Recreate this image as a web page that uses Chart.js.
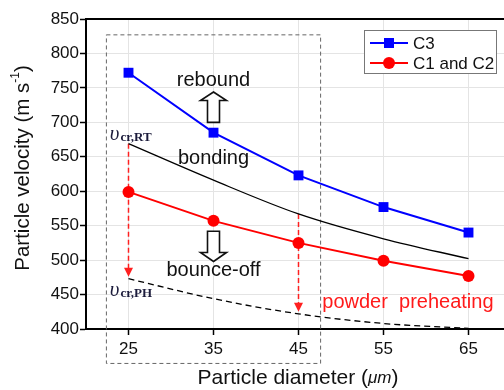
<!DOCTYPE html>
<html>
<head>
<meta charset="utf-8">
<script src="https://cdn.jsdelivr.net/npm/chart.js@4.4.0/dist/chart.umd.min.js"></script>
<style>
  html, body { margin: 0; padding: 0; background: #fff; overflow: hidden; }
</style>
</head>
<body>
<canvas id="chart" width="520" height="390"></canvas>
<script>
// values
const diameters = [25, 35, 45, 55, 65];
const c3Velocity = [772, 685, 623, 577, 540];
const c12Velocity = [599, 557, 525, 499, 477];
const bondingCritical = [669, 616, 567, 531, 502];
const preheatCritical = [473, 444, 422, 408, 401];
const arrowDiameters = [25, 45];
const boxDiameters = [22.4, 47.6];
const boxVelocities = [350, 827];

const SANS = '"Liberation Sans", Arial, sans-serif';
const SERIF = '"Liberation Serif", "Times New Roman", serif';

const toPoints = (ys) => diameters.map((d, i) => ({ x: d, y: ys[i] }));

function hollowArrow(ctx, cx, tipY, tailY, headLen) {
  const dir = tailY > tipY ? 1 : -1; // 1 = points up
  const baseY = tipY + dir * headLen;
  ctx.beginPath();
  ctx.moveTo(cx, tipY);
  ctx.lineTo(cx + 13, baseY);
  ctx.lineTo(cx + 6, baseY);
  ctx.lineTo(cx + 6, tailY);
  ctx.lineTo(cx - 6, tailY);
  ctx.lineTo(cx - 6, baseY);
  ctx.lineTo(cx - 13, baseY);
  ctx.closePath();
  ctx.fillStyle = '#fff';
  ctx.fill();
  ctx.lineWidth = 1.6;
  ctx.strokeStyle = '#111';
  ctx.stroke();
}

function critLabel(ctx, x, y, sub) {
  ctx.fillStyle = '#1c1c3c';
  ctx.textAlign = 'left';
  ctx.textBaseline = 'alphabetic';
  ctx.font = 'italic 21px ' + SERIF;
  ctx.fillText('\u03c5', x, y);
  const w = ctx.measureText('\u03c5').width;
  ctx.font = 'bold 13px ' + SERIF;
  ctx.fillText(sub, x + w + 1, y + 1);
}

const annotations = {
  id: 'annotations',
  beforeDatasetsDraw(chart) {
    const { ctx, chartArea, scales: { x, y } } = chart;
    ctx.save();
    // top frame line
    ctx.strokeStyle = '#000';
    ctx.lineWidth = 2;
    ctx.beginPath();
    ctx.moveTo(chartArea.left, chartArea.top);
    ctx.lineTo(chartArea.right, chartArea.top);
    ctx.stroke();

    // dashed grey box
    ctx.setLineDash([4, 3]);
    ctx.lineWidth = 1;
    ctx.strokeStyle = '#666';
    const bx0 = x.getPixelForValue(boxDiameters[0]);
    const bx1 = x.getPixelForValue(boxDiameters[1]);
    const by0 = y.getPixelForValue(boxVelocities[1]);
    const by1 = y.getPixelForValue(boxVelocities[0]);
    ctx.strokeRect(bx0, by0, bx1 - bx0, by1 - by0);

    // red dashed drop arrows
    arrowDiameters.forEach((d) => {
      const i = diameters.indexOf(d);
      const px = x.getPixelForValue(d);
      const top = y.getPixelForValue(bondingCritical[i]);
      const tip = y.getPixelForValue(preheatCritical[i]) - 2;
      ctx.setLineDash([5, 3]);
      ctx.lineWidth = 1.5;
      ctx.strokeStyle = '#ff2020';
      ctx.beginPath();
      ctx.moveTo(px, top);
      ctx.lineTo(px, tip - 8);
      ctx.stroke();
      ctx.setLineDash([]);
      ctx.fillStyle = '#ff2020';
      ctx.beginPath();
      ctx.moveTo(px, tip);
      ctx.lineTo(px - 4.5, tip - 9);
      ctx.lineTo(px + 4.5, tip - 9);
      ctx.closePath();
      ctx.fill();
    });
    ctx.restore();
  },
  afterDatasetsDraw(chart) {
    const { ctx, scales: { x, y } } = chart;
    ctx.save();
    const cx = x.getPixelForValue(35);

    ctx.fillStyle = '#111';
    ctx.font = '20px ' + SANS;
    ctx.textAlign = 'center';
    ctx.textBaseline = 'middle';
    ctx.fillText('rebound', cx, y.getPixelForValue(761));
    ctx.fillText('bonding', cx, y.getPixelForValue(648));
    ctx.fillText('bounce-off', cx, y.getPixelForValue(485));

    hollowArrow(ctx, cx, y.getPixelForValue(744), y.getPixelForValue(700), 8.5);
    hollowArrow(ctx, cx, y.getPixelForValue(498), y.getPixelForValue(542), 9);

    critLabel(ctx, x.getPixelForValue(22.8), y.getPixelForValue(674), 'cr,RT');
    critLabel(ctx, x.getPixelForValue(22.8), y.getPixelForValue(448), 'cr,PH');

    ctx.fillStyle = '#ff1a1a';
    ctx.font = '20px ' + SANS;
    ctx.textAlign = 'left';
    ctx.textBaseline = 'middle';
    ctx.fillText('powder  preheating', x.getPixelForValue(47.8), y.getPixelForValue(438.5));

    // legend box
    ctx.fillStyle = '#fff';
    ctx.fillRect(364, 30, 133, 43);
    ctx.strokeStyle = '#777';
    ctx.lineWidth = 1;
    ctx.strokeRect(364.5, 30.5, 132, 43);
    const rows = [
      { label: 'C3', color: '#0000ff', square: true, yy: 43 },
      { label: 'C1 and C2', color: '#ff0000', square: false, yy: 63 },
    ];
    rows.forEach((r) => {
      ctx.strokeStyle = r.color;
      ctx.lineWidth = 2;
      ctx.beginPath();
      ctx.moveTo(370, r.yy);
      ctx.lineTo(408, r.yy);
      ctx.stroke();
      ctx.fillStyle = r.color;
      if (r.square) {
        ctx.fillRect(384, r.yy - 5, 10, 10);
      } else {
        ctx.beginPath();
        ctx.arc(389, r.yy, 6, 0, Math.PI * 2);
        ctx.fill();
      }
      ctx.fillStyle = '#111';
      ctx.font = '17px ' + SANS;
      ctx.textAlign = 'left';
      ctx.fillText(r.label, 413, r.yy + 1);
    });
    ctx.restore();
  },
  afterDraw(chart) {
    const { ctx } = chart;
    ctx.save();
    ctx.fillStyle = '#111';
    ctx.textBaseline = 'middle';

    // x title
    const parts = [
      { t: 'Particle diameter (', f: '21px ' + SANS },
      { t: '\u03bcm', f: 'italic 17px ' + SANS },
      { t: ')', f: '21px ' + SANS },
    ];
    let total = 0;
    parts.forEach((p) => { ctx.font = p.f; p.w = ctx.measureText(p.t).width; total += p.w; });
    let px = 298 - total / 2;
    ctx.textAlign = 'left';
    parts.forEach((p) => { ctx.font = p.f; ctx.fillText(p.t, px, 378); px += p.w; });

    // y title, rotated
    ctx.translate(23, 168);
    ctx.rotate(-Math.PI / 2);
    const yParts = [
      { t: 'Particle velocity (m s', f: '20.5px ' + SANS, dy: 0 },
      { t: '-1', f: '12px ' + SANS, dy: -7 },
      { t: ')', f: '20.5px ' + SANS, dy: 0 },
    ];
    total = 0;
    yParts.forEach((p) => { ctx.font = p.f; p.w = ctx.measureText(p.t).width; total += p.w; });
    px = -total / 2;
    yParts.forEach((p) => { ctx.font = p.f; ctx.fillText(p.t, px, p.dy); px += p.w; });
    ctx.restore();
  },
};

new Chart(document.getElementById('chart'), {
  type: 'line',
  data: {
    datasets: [
      {
        label: 'C3',
        data: toPoints(c3Velocity),
        borderColor: '#0000ff',
        backgroundColor: '#0000ff',
        borderWidth: 2,
        pointStyle: 'rect',
        pointRadius: 7,
        pointBorderWidth: 0,
      },
      {
        label: 'C1 and C2',
        data: toPoints(c12Velocity),
        borderColor: '#ff0000',
        backgroundColor: '#ff0000',
        borderWidth: 2,
        pointStyle: 'circle',
        pointRadius: 6,
        pointBorderWidth: 0,
      },
      {
        label: 'bonding',
        data: toPoints(bondingCritical),
        borderColor: '#000',
        borderWidth: 1.3,
        pointRadius: 0,
        cubicInterpolationMode: 'monotone',
      },
      {
        label: 'preheat',
        data: toPoints(preheatCritical),
        borderColor: '#000',
        borderWidth: 1.3,
        borderDash: [6, 4],
        pointRadius: 0,
        cubicInterpolationMode: 'monotone',
      },
    ],
  },
  options: {
    responsive: false,
    animation: false,
    devicePixelRatio: 1,
    layout: { padding: { top: 19, right: 9, left: 0, bottom: 0 } },
    plugins: { legend: { display: false }, tooltip: { enabled: false } },
    scales: {
      x: {
        type: 'linear',
        min: 20,
        max: 70,
        afterBuildTicks: (scale) => { scale.ticks = diameters.map((v) => ({ value: v })); },
        afterFit: (scale) => { scale.height = 61; },
        grid: { color: '#e4e4e4', tickColor: '#000', tickLength: 6, tickWidth: 1.5 },
        border: { color: '#000', width: 2 },
        ticks: { color: '#111', font: { family: SANS, size: 17 }, padding: 4, maxRotation: 0 },
      },
      y: {
        min: 400,
        max: 850,
        afterFit: (scale) => { scale.width = 86; },
        grid: { color: '#e4e4e4', tickColor: '#000', tickLength: 6, tickWidth: 1.5 },
        border: { color: '#000', width: 2 },
        ticks: {
          stepSize: 25,
          color: '#111',
          font: { family: SANS, size: 17 },
          padding: 1,
          callback: (v) => (v % 50 === 0 ? v : ''),
        },
      },
    },
  },
  plugins: [annotations],
});
</script>
</body>
</html>
